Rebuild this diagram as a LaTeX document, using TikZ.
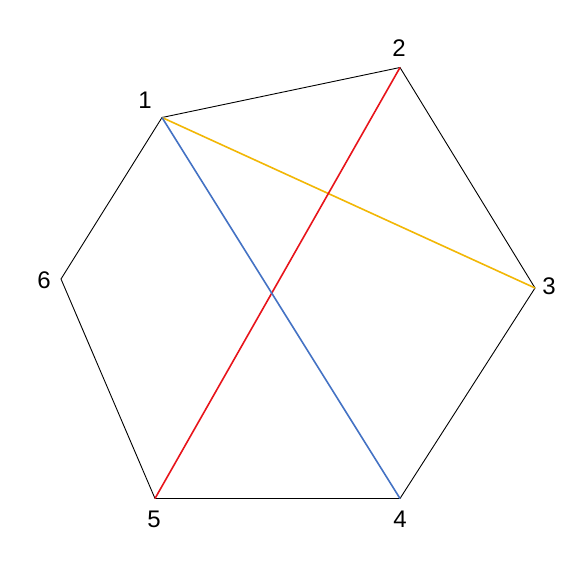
\documentclass[tikz,border=0pt]{standalone}
\usepackage{fontspec}
\setmainfont{Liberation Sans}
\begin{document}
\begin{tikzpicture}[x=1pt,y=-1pt,
  vlabel/.style={font=\fontsize{24}{26}\selectfont,inner sep=0pt},
  edge/.style={line width=0.9pt,black},
  diag/.style={line width=1.6pt}]
\definecolor{cyel}{HTML}{F2B705}
\definecolor{cred}{HTML}{E8141B}
\definecolor{cblue}{HTML}{4472C4}
\useasboundingbox[fill=white] (0,0) rectangle (577,577);
\coordinate (v1) at (162,117.5);
\coordinate (v2) at (400,67.5);
\coordinate (v3) at (535,288);
\coordinate (v4) at (400,498.5);
\coordinate (v5) at (155,498.5);
\coordinate (v6) at (61,279);
\draw[edge] (v1) -- (v2) -- (v3) -- (v4) -- (v5) -- (v6) -- cycle;
\draw[diag,cyel] (v1) -- (v3);
\draw[diag,cred] (v2) -- (v5);
\draw[diag,cblue] (v1) -- (v4);
\node[vlabel] (l1) at (145,100) {1};
\node[vlabel] (l2) at (399,48) {2};
\node[vlabel] (l3) at (549,286) {3};
\node[vlabel] (l4) at (400,519) {4};
\node[vlabel] (l5) at (154,519) {5};
\node[vlabel] (l6) at (44,280) {6};
\end{tikzpicture}
\end{document}
